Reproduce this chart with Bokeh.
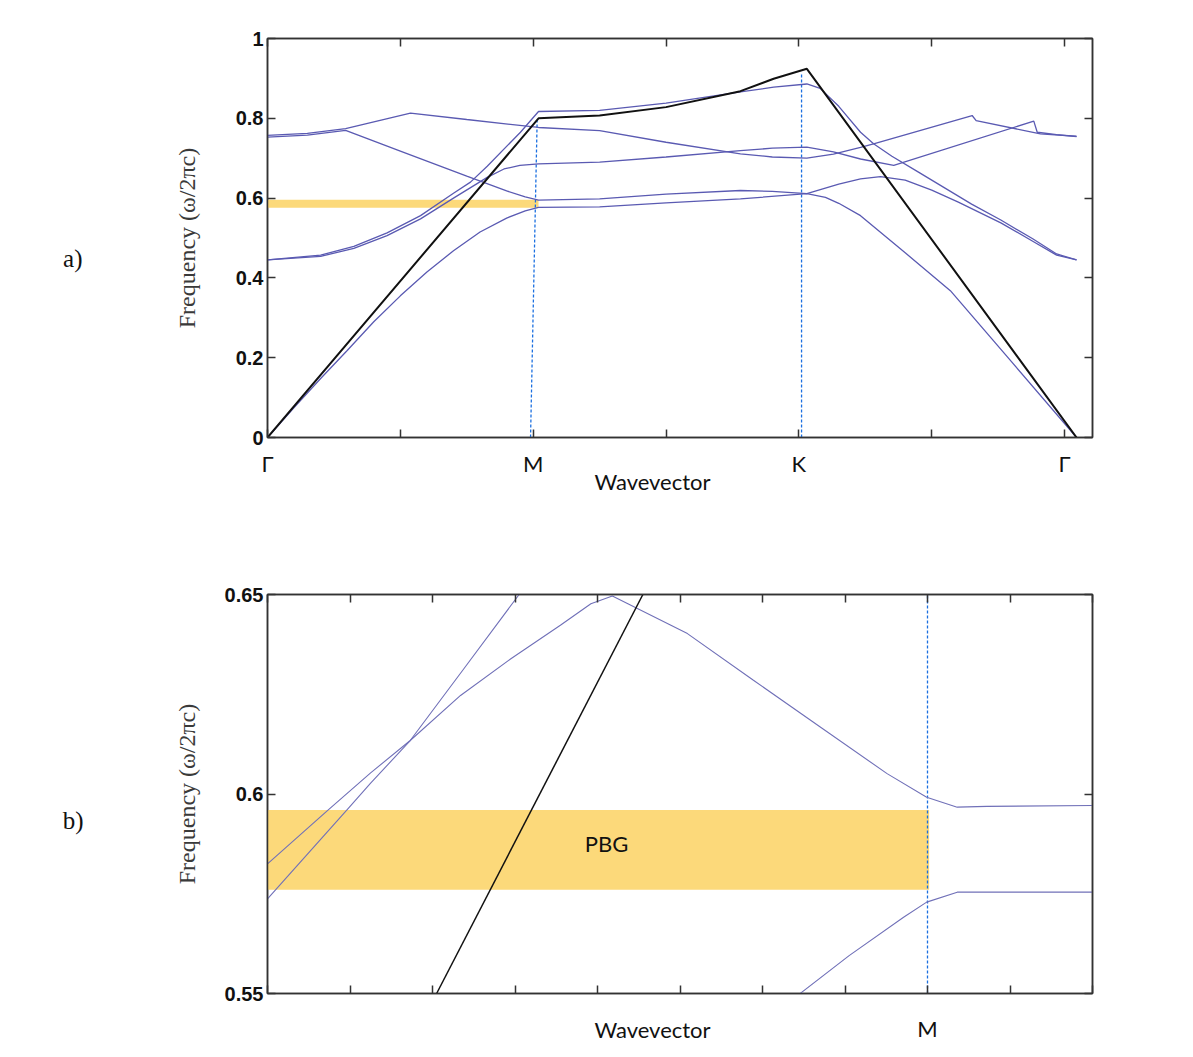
import json
from bokeh.plotting import figure
from bokeh.models import Range1d, FixedTicker, CustomJSTickFormatter, LinearAxis, Label
from bokeh.layouts import column
from bokeh.embed import file_html
from bokeh.resources import INLINE

# ---------------- data: panel a (band diagram along Γ-M-K-Γ) ----------------
kpt_pos_a = [0, 1, 2, 3]
kpt_labels_a = ["Γ", "M", "K", "Γ"]
freq_ticks_a = [0, 0.2, 0.4, 0.6, 0.8, 1.0]

light_k = [0, 1.02, 1.25, 1.5, 1.78, 1.905, 2.03, 3.045]
light_f = [0, 0.800, 0.807, 0.828, 0.868, 0.899, 0.924, 0]

band1_k = [0, 0.1, 0.2, 0.3, 0.4, 0.5, 0.6, 0.7, 0.8, 0.9, 0.97, 1.02, 1.25, 1.5, 1.78, 2.03, 2.1, 2.15, 2.232, 2.4, 2.57, 2.8, 3.045]
band1_f = [0, 0.075, 0.148, 0.218, 0.29, 0.355, 0.415, 0.468, 0.515, 0.55, 0.568, 0.577, 0.578, 0.588, 0.598, 0.611, 0.602, 0.587, 0.556, 0.463, 0.368, 0.19, 0]

band2_k = [0, 0.15, 0.294, 0.5, 0.75, 0.9, 0.97, 1.02, 1.25, 1.5, 1.78, 1.9, 2.03, 2.15, 2.232, 2.307, 2.4, 2.5, 2.6, 2.76, 2.88, 2.97, 3.045]
band2_f = [0.753, 0.758, 0.770, 0.718, 0.655, 0.618, 0.603, 0.595, 0.598, 0.61, 0.619, 0.617, 0.611, 0.635, 0.648, 0.654, 0.645, 0.62, 0.59, 0.538, 0.492, 0.457, 0.445]

band3_k = [0, 0.2, 0.325, 0.45, 0.576, 0.70, 0.827, 0.89, 0.95, 1.02, 1.25, 1.5, 1.78, 1.9, 2.03, 2.13, 2.232, 2.357, 2.884, 2.897, 2.97, 3.045]
band3_f = [0.445, 0.454, 0.474, 0.506, 0.548, 0.60, 0.652, 0.673, 0.682, 0.686, 0.69, 0.703, 0.719, 0.725, 0.728, 0.716, 0.698, 0.682, 0.793, 0.765, 0.759, 0.754]

band4_k = [0, 0.15, 0.294, 0.538, 0.75, 1.02, 1.25, 1.5, 1.78, 1.9, 2.03, 2.13, 2.232, 2.281, 2.652, 2.667, 2.909, 3.045]
band4_f = [0.757, 0.762, 0.774, 0.813, 0.797, 0.777, 0.769, 0.74, 0.711, 0.703, 0.70, 0.71, 0.727, 0.736, 0.807, 0.794, 0.761, 0.755]

band5_k = [0, 0.2, 0.325, 0.45, 0.576, 0.70, 0.764, 0.827, 0.952, 1.02, 1.25, 1.5, 1.78, 1.905, 2.03, 2.08, 2.15, 2.232, 2.281, 2.35, 2.45, 2.55, 2.65, 2.76, 2.88, 2.97, 3.045]
band5_f = [0.445, 0.457, 0.479, 0.513, 0.556, 0.612, 0.64, 0.68, 0.765, 0.817, 0.82, 0.838, 0.866, 0.878, 0.886, 0.875, 0.83, 0.765, 0.736, 0.705, 0.665, 0.625, 0.585, 0.545, 0.498, 0.46, 0.445]

# photonic band gap and symmetry-point markers
gap_lo, gap_hi = 0.576, 0.596
gap_end_a = 1.02
m_line_a = (0.99, 0.0, 1.015, 0.800)
k_line_a = (2.01, 0.0, 2.01, 0.912)

# ---------------- data: panel b (zoom near M) ----------------
xticks_b = list(range(0, 11))
m_pos_b = 8
freq_ticks_b = [0.55, 0.6, 0.65]

zb_q_x = [0, 0.74, 1.25, 1.73, 2.34, 2.95, 3.55, 3.92, 4.18, 5.09, 5.89, 6.70, 7.51, 7.99, 8.36, 8.72, 10]
zb_q_f = [0.5825, 0.5961, 0.6053, 0.6134, 0.6247, 0.6339, 0.6423, 0.6477, 0.6496, 0.6402, 0.6285, 0.6168, 0.6051, 0.5992, 0.5967, 0.5969, 0.5971]

zb_p_x = [0, 0.966, 1.25, 1.73, 2.38, 3.05, 3.3]
zb_p_f = [0.5737, 0.5961, 0.6027, 0.6134, 0.6314, 0.650, 0.657]

zb_r_x = [6.3, 6.45, 7.05, 7.71, 7.99, 8.36, 10]
zb_r_f = [0.547, 0.5499, 0.5595, 0.5691, 0.5729, 0.5754, 0.5754]

zb_light_x = [2.05, 4.55]
zb_light_f = [0.55, 0.65]

gap_end_b = 8.02

# text positions (data units)
wave_pos_a, panel_pos_a = 1.449, 0.449
wave_pos_b, panel_pos_b = 4.667, 0.5934

# ---------------- styling ----------------
BLUE = "#5a5ab2"
BLUE_B = "#7070b8"
GOLD = "#fcd97a"
DASH = "#1a6fe0"
FRAME = "#333333"
TICK_FONT = "Liberation Sans"
LETTER_FONT = "Lato"
SERIF = "Liberation Serif"


def text_fmt(pos, txt):
    return CustomJSTickFormatter(code="return Math.abs(tick-(%r)) < 1e-6 ? %s : '';" % (pos, json.dumps(txt, ensure_ascii=False)))


def style(p, xticks, yticks, xfmt, ystandoff, xstandoff, wave_pos, wave_standoff, panel_txt, panel_pos, panel_standoff):
    xa = p.below[0]
    ya = p.left[0]
    p.xgrid.visible = False
    p.ygrid.visible = False
    p.outline_line_color = FRAME
    p.outline_line_width = 1.5
    p.background_fill_color = "white"
    p.border_fill_color = "white"
    extra_r = LinearAxis()
    extra_t = LinearAxis()
    p.add_layout(extra_r, "right")
    p.add_layout(extra_t, "above")
    xa.ticker = FixedTicker(ticks=xticks)
    extra_t.ticker = FixedTicker(ticks=xticks)
    ya.ticker = FixedTicker(ticks=yticks)
    extra_r.ticker = FixedTicker(ticks=yticks)
    for ax in [xa, ya, extra_r, extra_t]:
        ax.axis_line_color = FRAME
        ax.axis_line_width = 1.5
        ax.major_tick_line_color = FRAME
        ax.major_tick_line_width = 1.5
        ax.major_tick_in = 8
        ax.major_tick_out = 0
        ax.minor_tick_line_color = None
    extra_r.formatter = CustomJSTickFormatter(code='return "";')
    extra_t.formatter = CustomJSTickFormatter(code='return "";')

    ya.formatter = CustomJSTickFormatter(code="return String(Math.round(tick*100)/100);")
    ya.major_label_text_font = TICK_FONT
    ya.major_label_text_font_style = "bold"
    ya.major_label_text_font_size = "20px"
    ya.major_label_text_color = "#111111"
    ya.major_label_standoff = 4
    ya.axis_label = "Frequency (ω/2πc)"
    ya.axis_label_text_font = SERIF
    ya.axis_label_text_font_style = "normal"
    ya.axis_label_text_font_size = "24px"
    ya.axis_label_text_color = "#3a3a3a"
    ya.axis_label_standoff = ystandoff

    xa.formatter = xfmt
    xa.major_label_text_font = LETTER_FONT
    xa.major_label_text_font_size = "22px"
    xa.major_label_text_color = "#111111"
    xa.major_label_standoff = xstandoff

    # second bottom axis carrying only the "Wavevector" caption
    wx = LinearAxis(ticker=FixedTicker(ticks=[wave_pos]), formatter=text_fmt(wave_pos, "Wavevector"))
    wx.axis_line_color = None
    wx.major_tick_line_color = None
    wx.minor_tick_line_color = None
    wx.major_label_text_font = LETTER_FONT
    wx.major_label_text_font_size = "22px"
    wx.major_label_text_color = "#111111"
    wx.major_label_standoff = wave_standoff
    p.add_layout(wx, "below")

    # second left axis carrying only the panel letter
    py = LinearAxis(ticker=FixedTicker(ticks=[panel_pos]), formatter=text_fmt(panel_pos, panel_txt))
    py.axis_line_color = None
    py.major_tick_line_color = None
    py.minor_tick_line_color = None
    py.major_label_text_font = SERIF
    py.major_label_text_font_size = "25px"
    py.major_label_text_color = "#111111"
    py.major_label_standoff = panel_standoff
    p.add_layout(py, "left")


# ---------------- panel a ----------------
pa = figure(width=1185, height=538, output_backend="svg", toolbar_location=None,
            x_range=Range1d(0, 3.105), y_range=Range1d(0, 1),
            min_border_left=267, min_border_right=93, min_border_top=38, min_border_bottom=101)
lab_map_a = {str(k): l for k, l in zip(kpt_pos_a, kpt_labels_a)}
xfmt_a = CustomJSTickFormatter(code="const m = %s; const k = String(Math.round(tick*2)/2); return (k in m) ? m[k] : '';" % json.dumps(lab_map_a, ensure_ascii=False))
style(pa, [0, 0.5, 1, 1.5, 2, 2.5, 3], freq_ticks_a, xfmt_a, 33, 12, wave_pos_a, -18, "a)", panel_pos_a, 82)

pa.quad(left=[0], right=[gap_end_a], bottom=[gap_lo], top=[gap_hi], fill_color=GOLD, line_color=None)
pa.segment(x0=[m_line_a[0], k_line_a[0]], y0=[m_line_a[1], k_line_a[1]],
           x1=[m_line_a[2], k_line_a[2]], y1=[m_line_a[3], k_line_a[3]],
           line_color=DASH, line_width=1.3, line_dash="3 2")
for bk, bf in [(band1_k, band1_f), (band2_k, band2_f), (band3_k, band3_f), (band4_k, band4_f), (band5_k, band5_f)]:
    pa.line(bk, bf, line_color=BLUE, line_width=1.3)
pa.line(light_k, light_f, line_color="#111111", line_width=2)

# ---------------- panel b ----------------
pb = figure(width=1185, height=515, output_backend="svg", toolbar_location=None,
            x_range=Range1d(0, 10), y_range=Range1d(0.55, 0.65),
            min_border_left=267, min_border_right=93, min_border_top=56, min_border_bottom=60)
xfmt_b = text_fmt(m_pos_b, "M")
style(pb, xticks_b, freq_ticks_b, xfmt_b, 22, 21, wave_pos_b, -35, "b)", panel_pos_b, 81)

pb.quad(left=[0], right=[gap_end_b], bottom=[gap_lo], top=[gap_hi], fill_color=GOLD, line_color=None)
pb.segment(x0=[m_pos_b], y0=[0.55], x1=[m_pos_b], y1=[0.65], line_color=DASH, line_width=1.3, line_dash="3 2")
for bx, bf in [(zb_q_x, zb_q_f), (zb_p_x, zb_p_f), (zb_r_x, zb_r_f)]:
    pb.line(bx, bf, line_color=BLUE_B, line_width=1.1)
pb.line(zb_light_x, zb_light_f, line_color="#111111", line_width=1.5)

pb.add_layout(Label(x=4.11, y=0.5876, text="PBG", text_font=LETTER_FONT, text_font_size="22px",
                    text_align="center", text_baseline="middle", text_color="#111111"))

layout = column(pa, pb, spacing=0)
with open("out.html", "w", encoding="utf-8") as f:
    f.write(file_html(layout, INLINE))
